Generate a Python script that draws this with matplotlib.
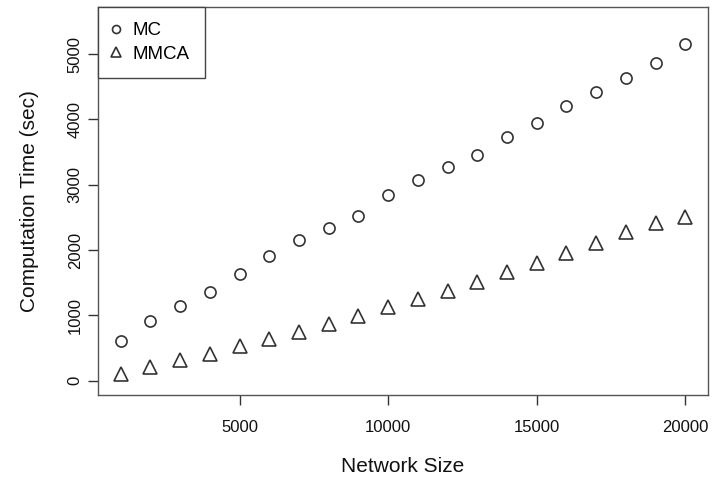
import matplotlib.pyplot as plt

plt.rcParams["font.family"] = ["Liberation Sans", "DejaVu Sans"]

network_size = [1000, 2000, 3000, 4000, 5000, 6000, 7000, 8000, 9000, 10000,
                11000, 12000, 13000, 14000, 15000, 16000, 17000, 18000, 19000, 20000]
mc_time = [605, 917, 1140, 1350, 1630, 1905, 2160, 2339, 2523, 2835,
           3073, 3265, 3456, 3725, 3945, 4205, 4419, 4633, 4862, 5153]
mmca_time = [107, 215, 315, 413, 525, 640, 749, 865, 994, 1121,
             1249, 1375, 1512, 1662, 1800, 1953, 2106, 2283, 2420, 2512]

x_ticks = [5000, 10000, 15000, 20000]
y_ticks = [0, 1000, 2000, 3000, 4000, 5000]

ink = "#333333"

fig = plt.figure(figsize=(7.13, 4.8), dpi=100)
ax = fig.add_axes([98 / 713, 85 / 480, 610 / 713, 388 / 480])

ax.plot(network_size, mc_time, linestyle="none", marker="o", markersize=8,
        markerfacecolor="none", markeredgecolor=ink, markeredgewidth=1.2, label="MC")
ax.plot(network_size, mmca_time, linestyle="none", marker="^", markersize=9.5,
        markerfacecolor="none", markeredgecolor=ink, markeredgewidth=1.2, label="MMCA")

ax.set_xlim(240, 20760)
ax.set_ylim(-220, 5720)
ax.set_xticks(x_ticks)
ax.set_yticks(y_ticks)
ax.set_yticklabels([str(v) for v in y_ticks], rotation=90, va="center")

ax.tick_params(axis="both", direction="out", length=7, width=1, color=ink,
               labelsize=12, labelcolor="#111111")
ax.tick_params(axis="x", pad=11)
ax.tick_params(axis="y", pad=4)
for s in ax.spines.values():
    s.set_color("#555555")
    s.set_linewidth(1)

ax.set_xlabel("Network Size", fontsize=15, color="#111111", labelpad=16)
ax.set_ylabel("Computation Time (sec)", fontsize=15, color="#111111", labelpad=21)

# legend box sits flush in the top-left corner, like R's legend("topleft")
leg = ax.legend(loc="upper left", bbox_to_anchor=(0, 1), borderaxespad=0,
                fancybox=False, framealpha=1, edgecolor="#444444", fontsize=13.5,
                handlelength=0.3, handletextpad=0.75, borderpad=0.8, labelspacing=0.36,
                markerscale=0.72, frameon=True)
leg.get_frame().set_linewidth(1)

fig.savefig("out.png", dpi=100)
